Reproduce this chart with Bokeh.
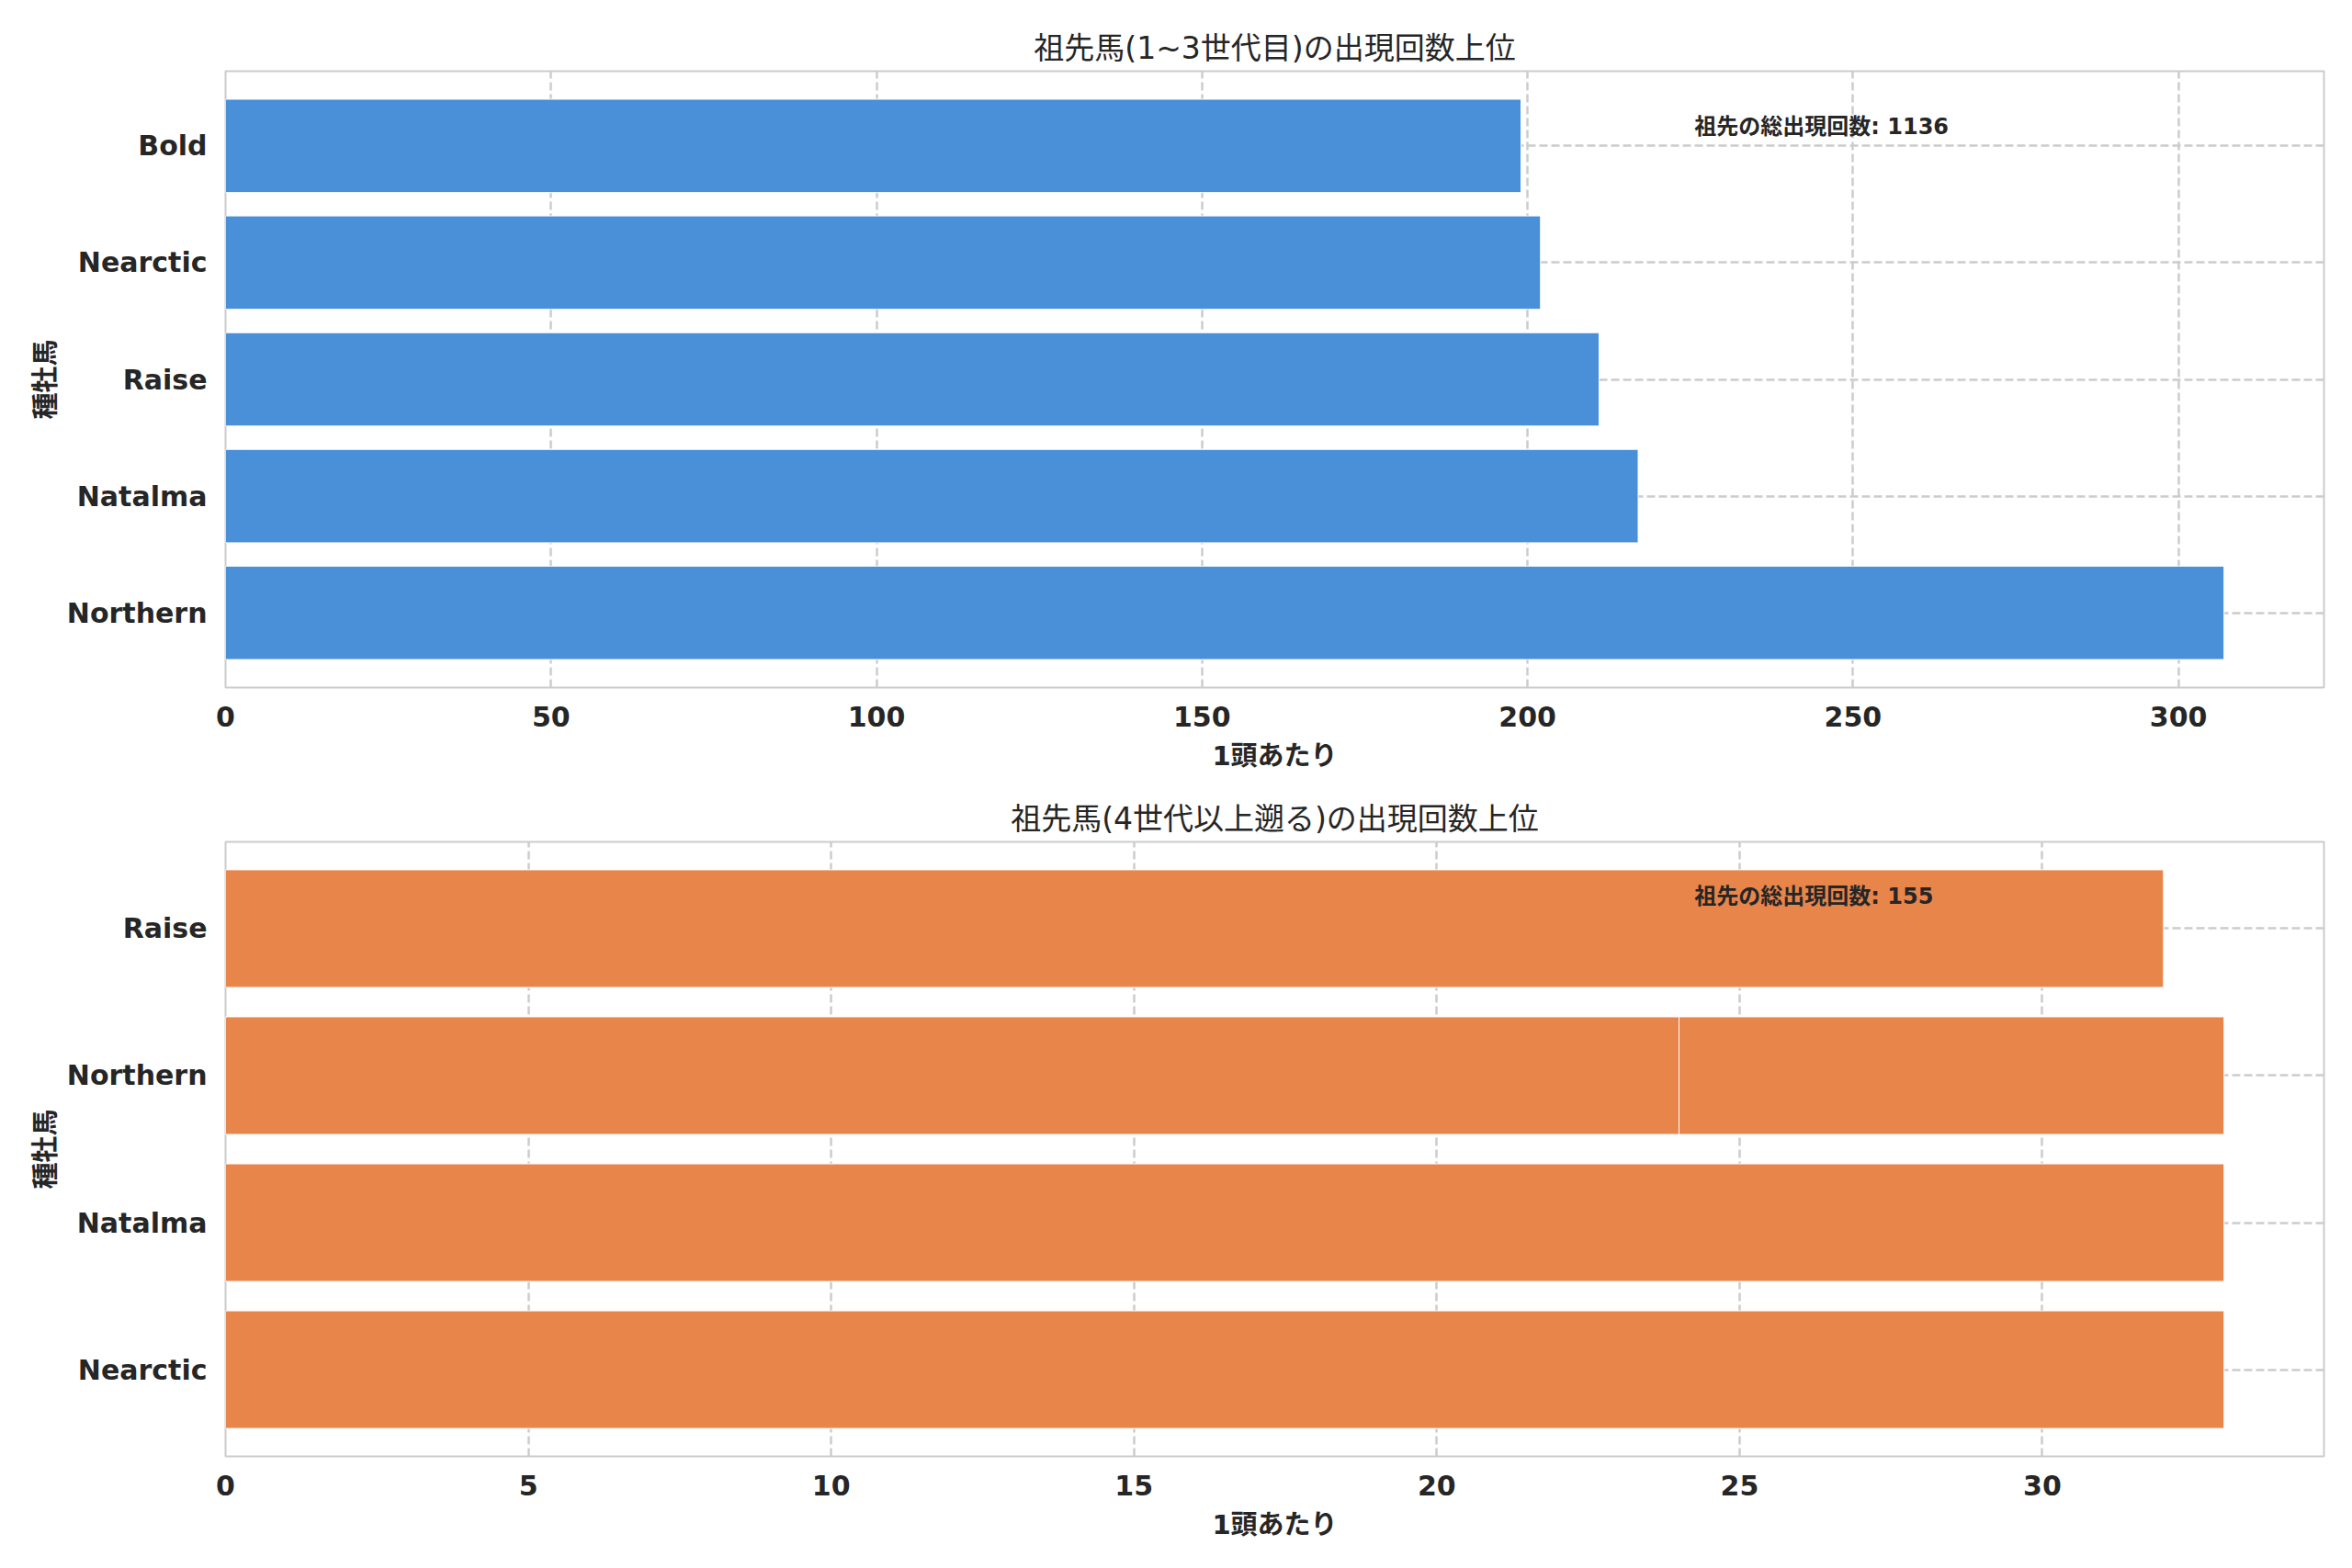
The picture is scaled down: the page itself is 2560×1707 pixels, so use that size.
from bokeh.plotting import figure
from bokeh.layouts import column
from bokeh.models import FactorRange, Range1d, FixedTicker, Label, ColumnDataSource
from bokeh.embed import file_html
from bokeh.resources import INLINE

# ---- data ----
top_title = "祖先馬(1~3世代目)の出現回数上位"
top_names = ["Northern", "Natalma", "Raise", "Nearctic", "Bold"]
top_counts = [307, 217, 211, 202, 199]
top_ticks = [0, 50, 100, 150, 200, 250, 300]

bot_title = "祖先馬(4世代以上遡る)の出現回数上位"
bot_factors = ["Nearctic", "Natalma", "Northern", "Raise"]
bot_names = ["Nearctic", "Natalma", "Northern", "Northern", "Raise"]
bot_counts = [33, 33, 33, 24, 32]
bot_ticks = [0, 5, 10, 15, 20, 25, 30]

x_label = "1頭あたり"
y_label = "種牡馬"
note_prefix = "祖先の総出現回数: "

FONT = "DejaVu Sans, 'Noto Sans CJK JP', sans-serif"
TXT = "#262626"


def make_panel(title, factors, names, counts, ticks, color, fh, b_top, b_bot):
    n = len(factors)
    pad = 0.4 + 0.05 * (n - 1 + 0.8)  # matplotlib-like margins
    y_rng = FactorRange(factors=factors, range_padding=(pad - 0.5) * 2 / n,
                        range_padding_units="percent")
    xmax = max(counts) * 1.05
    p = figure(y_range=y_rng, x_range=Range1d(0, xmax),
               frame_width=2284, frame_height=fh,
               min_border_left=245, min_border_right=15,
               min_border_top=b_top, min_border_bottom=b_bot,
               output_backend="svg", toolbar_location=None, title=title)
    p.title.text_font = FONT
    p.title.text_font_size = "33px"
    p.title.text_font_style = "normal"
    p.title.text_color = TXT
    p.title.align = "center"
    p.title.standoff = 12

    src = ColumnDataSource(dict(y=names, v=counts))
    p.hbar(y="y", right="v", left=0, height=0.8, source=src,
           fill_color=color, line_color="white", line_width=1)

    p.xaxis.ticker = FixedTicker(ticks=ticks)
    for ax in (p.xaxis[0], p.yaxis[0]):
        ax.axis_line_color = None
        ax.major_tick_line_color = None
        ax.minor_tick_line_color = None
        ax.major_tick_out = 0
        ax.major_tick_in = 0
        ax.major_label_text_font = FONT
        ax.major_label_text_font_size = "30px"
        ax.major_label_text_font_style = "bold"
        ax.major_label_text_color = TXT
        ax.axis_label_text_font = FONT
        ax.axis_label_text_font_size = "29px"
        ax.axis_label_text_font_style = "bold"
        ax.axis_label_text_color = TXT
    p.xaxis.axis_label = x_label
    p.yaxis.axis_label = y_label
    p.xaxis.major_label_standoff = 20
    p.xaxis.axis_label_standoff = 12
    p.yaxis.major_label_standoff = 20
    p.yaxis.axis_label_standoff = 3

    for g in (p.xgrid[0], p.ygrid[0]):
        g.grid_line_color = "#cccccc"
        g.grid_line_width = 2.5
        g.grid_line_dash = "9 4"
    p.outline_line_color = "#cccccc"
    p.outline_line_width = 2
    p.background_fill_color = "white"
    p.border_fill_color = "white"

    ys, ye = -pad + 0.5, n - 0.5 + pad  # synthetic coords
    lab = Label(x=0.7 * xmax, y=ye - 0.0686 * (ye - ys),
                text=note_prefix + str(sum(counts)),
                text_font=FONT, text_font_size="24px", text_font_style="bold",
                text_color=TXT, text_baseline="top", text_align="left")
    p.add_layout(lab)
    return p


p1 = make_panel(top_title, top_names, top_names, top_counts, top_ticks,
                "#4A90D9", 671, 77, 112)
p2 = make_panel(bot_title, bot_factors, bot_names, bot_counts, bot_ticks,
                "#E8854A", 669, 56, 114)

layout = column(p1, p2, spacing=0)
open("out.html", "w").write(file_html(layout, INLINE))
